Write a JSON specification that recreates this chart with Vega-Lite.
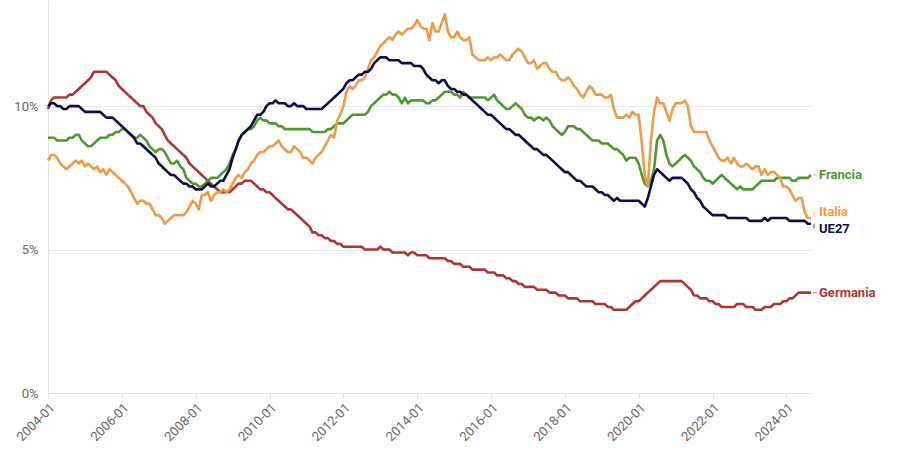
{
  "$schema": "https://vega.github.io/schema/vega-lite/v6.json",
  "width": 763,
  "height": 393,
  "autosize": {"type": "none"},
  "padding": {"left": 48, "top": 0, "right": 89, "bottom": 67},
  "background": "white",
  "config": {"view": {"stroke": null}, "font": "Roboto"},
  "data": {"values": [
    {"mese":"2004-01","UE27":10.0,"Francia":8.9,"Italia":8.1,"Germania":9.9},
    {"mese":"2004-02","UE27":10.1,"Francia":8.9,"Italia":8.3,"Germania":10.2},
    {"mese":"2004-03","UE27":10.1,"Francia":8.9,"Italia":8.3,"Germania":10.3},
    {"mese":"2004-04","UE27":10.0,"Francia":8.8,"Italia":8.2,"Germania":10.3},
    {"mese":"2004-05","UE27":10.0,"Francia":8.8,"Italia":8.0,"Germania":10.3},
    {"mese":"2004-06","UE27":9.9,"Francia":8.8,"Italia":7.9,"Germania":10.3},
    {"mese":"2004-07","UE27":9.9,"Francia":8.8,"Italia":7.8,"Germania":10.3},
    {"mese":"2004-08","UE27":10.0,"Francia":8.9,"Italia":7.9,"Germania":10.4},
    {"mese":"2004-09","UE27":10.0,"Francia":8.9,"Italia":8.0,"Germania":10.4},
    {"mese":"2004-10","UE27":10.0,"Francia":9.0,"Italia":8.1,"Germania":10.5},
    {"mese":"2004-11","UE27":10.0,"Francia":9.0,"Italia":8.0,"Germania":10.6},
    {"mese":"2004-12","UE27":9.9,"Francia":8.8,"Italia":8.1,"Germania":10.7},
    {"mese":"2005-01","UE27":9.8,"Francia":8.7,"Italia":7.9,"Germania":10.8},
    {"mese":"2005-02","UE27":9.8,"Francia":8.6,"Italia":8.0,"Germania":10.9},
    {"mese":"2005-03","UE27":9.8,"Francia":8.6,"Italia":7.9,"Germania":11.0},
    {"mese":"2005-04","UE27":9.8,"Francia":8.7,"Italia":7.8,"Germania":11.2},
    {"mese":"2005-05","UE27":9.8,"Francia":8.8,"Italia":7.9,"Germania":11.2},
    {"mese":"2005-06","UE27":9.8,"Francia":8.9,"Italia":7.7,"Germania":11.2},
    {"mese":"2005-07","UE27":9.7,"Francia":8.9,"Italia":7.8,"Germania":11.2},
    {"mese":"2005-08","UE27":9.6,"Francia":8.9,"Italia":7.6,"Germania":11.2},
    {"mese":"2005-09","UE27":9.6,"Francia":9.0,"Italia":7.8,"Germania":11.1},
    {"mese":"2005-10","UE27":9.6,"Francia":9.0,"Italia":7.7,"Germania":11.0},
    {"mese":"2005-11","UE27":9.5,"Francia":9.1,"Italia":7.6,"Germania":10.9},
    {"mese":"2005-12","UE27":9.4,"Francia":9.1,"Italia":7.5,"Germania":10.7},
    {"mese":"2006-01","UE27":9.3,"Francia":9.2,"Italia":7.4,"Germania":10.6},
    {"mese":"2006-02","UE27":9.2,"Francia":9.2,"Italia":7.3,"Germania":10.5},
    {"mese":"2006-03","UE27":9.1,"Francia":9.1,"Italia":7.2,"Germania":10.4},
    {"mese":"2006-04","UE27":9.0,"Francia":9.0,"Italia":7.0,"Germania":10.3},
    {"mese":"2006-05","UE27":8.9,"Francia":8.9,"Italia":6.8,"Germania":10.2},
    {"mese":"2006-06","UE27":8.7,"Francia":8.9,"Italia":6.6,"Germania":10.1},
    {"mese":"2006-07","UE27":8.7,"Francia":9.0,"Italia":6.7,"Germania":10.0},
    {"mese":"2006-08","UE27":8.6,"Francia":8.9,"Italia":6.7,"Germania":10.0},
    {"mese":"2006-09","UE27":8.5,"Francia":8.8,"Italia":6.6,"Germania":9.8},
    {"mese":"2006-10","UE27":8.4,"Francia":8.6,"Italia":6.6,"Germania":9.7},
    {"mese":"2006-11","UE27":8.3,"Francia":8.5,"Italia":6.4,"Germania":9.6},
    {"mese":"2006-12","UE27":8.2,"Francia":8.4,"Italia":6.2,"Germania":9.4},
    {"mese":"2007-01","UE27":8.0,"Francia":8.5,"Italia":6.2,"Germania":9.3},
    {"mese":"2007-02","UE27":7.9,"Francia":8.5,"Italia":6.1,"Germania":9.2},
    {"mese":"2007-03","UE27":7.8,"Francia":8.4,"Italia":5.9,"Germania":9.0},
    {"mese":"2007-04","UE27":7.7,"Francia":8.2,"Italia":6.0,"Germania":8.8},
    {"mese":"2007-05","UE27":7.6,"Francia":8.0,"Italia":6.1,"Germania":8.7},
    {"mese":"2007-06","UE27":7.6,"Francia":8.0,"Italia":6.2,"Germania":8.6},
    {"mese":"2007-07","UE27":7.5,"Francia":8.1,"Italia":6.2,"Germania":8.5},
    {"mese":"2007-08","UE27":7.4,"Francia":7.9,"Italia":6.2,"Germania":8.4},
    {"mese":"2007-09","UE27":7.3,"Francia":7.8,"Italia":6.2,"Germania":8.3},
    {"mese":"2007-10","UE27":7.3,"Francia":7.5,"Italia":6.3,"Germania":8.2},
    {"mese":"2007-11","UE27":7.2,"Francia":7.4,"Italia":6.5,"Germania":8.0},
    {"mese":"2007-12","UE27":7.2,"Francia":7.3,"Italia":6.7,"Germania":7.9},
    {"mese":"2008-01","UE27":7.1,"Francia":7.3,"Italia":6.6,"Germania":7.8},
    {"mese":"2008-02","UE27":7.1,"Francia":7.2,"Italia":6.4,"Germania":7.7},
    {"mese":"2008-03","UE27":7.1,"Francia":7.2,"Italia":6.9,"Germania":7.6},
    {"mese":"2008-04","UE27":7.2,"Francia":7.3,"Italia":6.9,"Germania":7.5},
    {"mese":"2008-05","UE27":7.3,"Francia":7.4,"Italia":7.0,"Germania":7.4},
    {"mese":"2008-06","UE27":7.2,"Francia":7.5,"Italia":6.7,"Germania":7.3},
    {"mese":"2008-07","UE27":7.2,"Francia":7.5,"Italia":6.9,"Germania":7.2},
    {"mese":"2008-08","UE27":7.3,"Francia":7.5,"Italia":7.0,"Germania":7.1},
    {"mese":"2008-09","UE27":7.4,"Francia":7.6,"Italia":7.0,"Germania":7.0},
    {"mese":"2008-10","UE27":7.4,"Francia":7.7,"Italia":7.1,"Germania":7.0},
    {"mese":"2008-11","UE27":7.6,"Francia":7.8,"Italia":7.0,"Germania":7.0},
    {"mese":"2008-12","UE27":7.8,"Francia":8.0,"Italia":7.1,"Germania":7.0},
    {"mese":"2009-01","UE27":8.2,"Francia":8.3,"Italia":7.3,"Germania":7.1},
    {"mese":"2009-02","UE27":8.5,"Francia":8.5,"Italia":7.5,"Germania":7.2},
    {"mese":"2009-03","UE27":8.8,"Francia":8.8,"Italia":7.6,"Germania":7.3},
    {"mese":"2009-04","UE27":9.0,"Francia":9.0,"Italia":7.5,"Germania":7.3},
    {"mese":"2009-05","UE27":9.1,"Francia":9.1,"Italia":7.7,"Germania":7.4},
    {"mese":"2009-06","UE27":9.2,"Francia":9.2,"Italia":7.8,"Germania":7.4},
    {"mese":"2009-07","UE27":9.3,"Francia":9.2,"Italia":8.0,"Germania":7.4},
    {"mese":"2009-08","UE27":9.5,"Francia":9.3,"Italia":8.1,"Germania":7.3},
    {"mese":"2009-09","UE27":9.7,"Francia":9.5,"Italia":8.3,"Germania":7.2},
    {"mese":"2009-10","UE27":9.7,"Francia":9.6,"Italia":8.4,"Germania":7.1},
    {"mese":"2009-11","UE27":9.8,"Francia":9.5,"Italia":8.4,"Germania":7.1},
    {"mese":"2009-12","UE27":10.0,"Francia":9.5,"Italia":8.5,"Germania":7.0},
    {"mese":"2010-01","UE27":10.1,"Francia":9.4,"Italia":8.6,"Germania":7.0},
    {"mese":"2010-02","UE27":10.1,"Francia":9.4,"Italia":8.6,"Germania":6.9},
    {"mese":"2010-03","UE27":10.2,"Francia":9.4,"Italia":8.7,"Germania":6.8},
    {"mese":"2010-04","UE27":10.1,"Francia":9.3,"Italia":8.8,"Germania":6.7},
    {"mese":"2010-05","UE27":10.1,"Francia":9.3,"Italia":8.6,"Germania":6.6},
    {"mese":"2010-06","UE27":10.1,"Francia":9.2,"Italia":8.5,"Germania":6.5},
    {"mese":"2010-07","UE27":10.0,"Francia":9.2,"Italia":8.4,"Germania":6.4},
    {"mese":"2010-08","UE27":10.0,"Francia":9.2,"Italia":8.4,"Germania":6.4},
    {"mese":"2010-09","UE27":10.1,"Francia":9.2,"Italia":8.6,"Germania":6.3},
    {"mese":"2010-10","UE27":10.0,"Francia":9.2,"Italia":8.5,"Germania":6.2},
    {"mese":"2010-11","UE27":10.0,"Francia":9.2,"Italia":8.4,"Germania":6.1},
    {"mese":"2010-12","UE27":10.0,"Francia":9.2,"Italia":8.2,"Germania":6.0},
    {"mese":"2011-01","UE27":9.9,"Francia":9.2,"Italia":8.2,"Germania":5.9},
    {"mese":"2011-02","UE27":9.9,"Francia":9.2,"Italia":8.1,"Germania":5.8},
    {"mese":"2011-03","UE27":9.9,"Francia":9.1,"Italia":8.0,"Germania":5.6},
    {"mese":"2011-04","UE27":9.9,"Francia":9.1,"Italia":8.2,"Germania":5.6},
    {"mese":"2011-05","UE27":9.9,"Francia":9.1,"Italia":8.3,"Germania":5.5},
    {"mese":"2011-06","UE27":9.9,"Francia":9.1,"Italia":8.4,"Germania":5.5},
    {"mese":"2011-07","UE27":10.0,"Francia":9.1,"Italia":8.6,"Germania":5.4},
    {"mese":"2011-08","UE27":10.1,"Francia":9.2,"Italia":8.8,"Germania":5.4},
    {"mese":"2011-09","UE27":10.2,"Francia":9.2,"Italia":9.0,"Germania":5.3},
    {"mese":"2011-10","UE27":10.3,"Francia":9.3,"Italia":8.9,"Germania":5.3},
    {"mese":"2011-11","UE27":10.4,"Francia":9.4,"Italia":9.5,"Germania":5.2},
    {"mese":"2011-12","UE27":10.5,"Francia":9.4,"Italia":9.7,"Germania":5.2},
    {"mese":"2012-01","UE27":10.6,"Francia":9.4,"Italia":10.0,"Germania":5.1},
    {"mese":"2012-02","UE27":10.8,"Francia":9.5,"Italia":10.5,"Germania":5.1},
    {"mese":"2012-03","UE27":10.9,"Francia":9.6,"Italia":10.7,"Germania":5.1},
    {"mese":"2012-04","UE27":10.9,"Francia":9.7,"Italia":10.6,"Germania":5.1},
    {"mese":"2012-05","UE27":11.0,"Francia":9.7,"Italia":10.7,"Germania":5.1},
    {"mese":"2012-06","UE27":11.1,"Francia":9.7,"Italia":10.9,"Germania":5.1},
    {"mese":"2012-07","UE27":11.1,"Francia":9.7,"Italia":10.9,"Germania":5.1},
    {"mese":"2012-08","UE27":11.2,"Francia":9.7,"Italia":11.0,"Germania":5.0},
    {"mese":"2012-09","UE27":11.2,"Francia":9.8,"Italia":11.3,"Germania":5.0},
    {"mese":"2012-10","UE27":11.3,"Francia":10.0,"Italia":11.6,"Germania":5.0},
    {"mese":"2012-11","UE27":11.5,"Francia":10.1,"Italia":11.7,"Germania":5.0},
    {"mese":"2012-12","UE27":11.6,"Francia":10.2,"Italia":11.9,"Germania":5.0},
    {"mese":"2013-01","UE27":11.7,"Francia":10.3,"Italia":12.1,"Germania":5.1},
    {"mese":"2013-02","UE27":11.7,"Francia":10.4,"Italia":12.2,"Germania":5.0},
    {"mese":"2013-03","UE27":11.7,"Francia":10.4,"Italia":12.3,"Germania":5.0},
    {"mese":"2013-04","UE27":11.6,"Francia":10.5,"Italia":12.4,"Germania":5.0},
    {"mese":"2013-05","UE27":11.6,"Francia":10.4,"Italia":12.3,"Germania":4.9},
    {"mese":"2013-06","UE27":11.6,"Francia":10.4,"Italia":12.5,"Germania":4.9},
    {"mese":"2013-07","UE27":11.6,"Francia":10.3,"Italia":12.6,"Germania":4.9},
    {"mese":"2013-08","UE27":11.5,"Francia":10.1,"Italia":12.5,"Germania":4.9},
    {"mese":"2013-09","UE27":11.5,"Francia":10.3,"Italia":12.6,"Germania":4.9},
    {"mese":"2013-10","UE27":11.5,"Francia":10.1,"Italia":12.7,"Germania":4.8},
    {"mese":"2013-11","UE27":11.5,"Francia":10.2,"Italia":12.7,"Germania":4.9},
    {"mese":"2013-12","UE27":11.4,"Francia":10.2,"Italia":12.8,"Germania":4.9},
    {"mese":"2014-01","UE27":11.4,"Francia":10.2,"Italia":13.0,"Germania":4.8},
    {"mese":"2014-02","UE27":11.4,"Francia":10.2,"Italia":12.8,"Germania":4.8},
    {"mese":"2014-03","UE27":11.3,"Francia":10.2,"Italia":12.7,"Germania":4.8},
    {"mese":"2014-04","UE27":11.1,"Francia":10.1,"Italia":12.7,"Germania":4.8},
    {"mese":"2014-05","UE27":11.0,"Francia":10.1,"Italia":12.3,"Germania":4.7},
    {"mese":"2014-06","UE27":10.9,"Francia":10.2,"Italia":12.9,"Germania":4.7},
    {"mese":"2014-07","UE27":10.9,"Francia":10.2,"Italia":12.6,"Germania":4.7},
    {"mese":"2014-08","UE27":10.8,"Francia":10.3,"Italia":12.6,"Germania":4.7},
    {"mese":"2014-09","UE27":10.9,"Francia":10.4,"Italia":12.9,"Germania":4.7},
    {"mese":"2014-10","UE27":10.9,"Francia":10.5,"Italia":13.2,"Germania":4.7},
    {"mese":"2014-11","UE27":10.7,"Francia":10.5,"Italia":12.6,"Germania":4.6},
    {"mese":"2014-12","UE27":10.6,"Francia":10.5,"Italia":12.4,"Germania":4.6},
    {"mese":"2015-01","UE27":10.6,"Francia":10.4,"Italia":12.4,"Germania":4.5},
    {"mese":"2015-02","UE27":10.5,"Francia":10.4,"Italia":12.6,"Germania":4.5},
    {"mese":"2015-03","UE27":10.5,"Francia":10.3,"Italia":12.4,"Germania":4.5},
    {"mese":"2015-04","UE27":10.4,"Francia":10.5,"Italia":12.3,"Germania":4.4},
    {"mese":"2015-05","UE27":10.4,"Francia":10.4,"Italia":12.3,"Germania":4.4},
    {"mese":"2015-06","UE27":10.3,"Francia":10.3,"Italia":12.4,"Germania":4.4},
    {"mese":"2015-07","UE27":10.2,"Francia":10.3,"Italia":11.8,"Germania":4.3},
    {"mese":"2015-08","UE27":10.1,"Francia":10.3,"Italia":11.7,"Germania":4.3},
    {"mese":"2015-09","UE27":10.0,"Francia":10.3,"Italia":11.6,"Germania":4.3},
    {"mese":"2015-10","UE27":9.9,"Francia":10.3,"Italia":11.6,"Germania":4.3},
    {"mese":"2015-11","UE27":9.8,"Francia":10.3,"Italia":11.6,"Germania":4.3},
    {"mese":"2015-12","UE27":9.7,"Francia":10.2,"Italia":11.7,"Germania":4.2},
    {"mese":"2016-01","UE27":9.7,"Francia":10.3,"Italia":11.6,"Germania":4.2},
    {"mese":"2016-02","UE27":9.6,"Francia":10.4,"Italia":11.7,"Germania":4.2},
    {"mese":"2016-03","UE27":9.5,"Francia":10.2,"Italia":11.7,"Germania":4.1},
    {"mese":"2016-04","UE27":9.4,"Francia":10.1,"Italia":11.8,"Germania":4.1},
    {"mese":"2016-05","UE27":9.3,"Francia":10.0,"Italia":11.7,"Germania":4.1},
    {"mese":"2016-06","UE27":9.2,"Francia":9.9,"Italia":11.6,"Germania":4.0},
    {"mese":"2016-07","UE27":9.2,"Francia":9.9,"Italia":11.6,"Germania":4.0},
    {"mese":"2016-08","UE27":9.1,"Francia":10.0,"Italia":11.8,"Germania":3.9},
    {"mese":"2016-09","UE27":9.0,"Francia":10.1,"Italia":11.9,"Germania":3.9},
    {"mese":"2016-10","UE27":9.0,"Francia":10.0,"Italia":12.0,"Germania":3.8},
    {"mese":"2016-11","UE27":8.9,"Francia":9.9,"Italia":11.9,"Germania":3.8},
    {"mese":"2016-12","UE27":8.8,"Francia":9.7,"Italia":11.7,"Germania":3.7},
    {"mese":"2017-01","UE27":8.7,"Francia":9.6,"Italia":11.5,"Germania":3.7},
    {"mese":"2017-02","UE27":8.6,"Francia":9.6,"Italia":11.5,"Germania":3.7},
    {"mese":"2017-03","UE27":8.5,"Francia":9.5,"Italia":11.6,"Germania":3.7},
    {"mese":"2017-04","UE27":8.5,"Francia":9.6,"Italia":11.3,"Germania":3.6},
    {"mese":"2017-05","UE27":8.4,"Francia":9.6,"Italia":11.4,"Germania":3.6},
    {"mese":"2017-06","UE27":8.3,"Francia":9.5,"Italia":11.5,"Germania":3.6},
    {"mese":"2017-07","UE27":8.3,"Francia":9.6,"Italia":11.5,"Germania":3.6},
    {"mese":"2017-08","UE27":8.2,"Francia":9.5,"Italia":11.3,"Germania":3.5},
    {"mese":"2017-09","UE27":8.1,"Francia":9.3,"Italia":11.2,"Germania":3.5},
    {"mese":"2017-10","UE27":8.0,"Francia":9.2,"Italia":11.2,"Germania":3.5},
    {"mese":"2017-11","UE27":7.9,"Francia":9.1,"Italia":11.0,"Germania":3.4},
    {"mese":"2017-12","UE27":7.8,"Francia":9.0,"Italia":10.9,"Germania":3.4},
    {"mese":"2018-01","UE27":7.7,"Francia":9.1,"Italia":10.9,"Germania":3.4},
    {"mese":"2018-02","UE27":7.7,"Francia":9.3,"Italia":11.0,"Germania":3.3},
    {"mese":"2018-03","UE27":7.6,"Francia":9.3,"Italia":10.9,"Germania":3.3},
    {"mese":"2018-04","UE27":7.5,"Francia":9.3,"Italia":10.7,"Germania":3.3},
    {"mese":"2018-05","UE27":7.4,"Francia":9.2,"Italia":10.6,"Germania":3.3},
    {"mese":"2018-06","UE27":7.4,"Francia":9.2,"Italia":10.4,"Germania":3.2},
    {"mese":"2018-07","UE27":7.3,"Francia":9.1,"Italia":10.3,"Germania":3.2},
    {"mese":"2018-08","UE27":7.2,"Francia":9.0,"Italia":10.5,"Germania":3.2},
    {"mese":"2018-09","UE27":7.2,"Francia":8.9,"Italia":10.7,"Germania":3.2},
    {"mese":"2018-10","UE27":7.2,"Francia":8.8,"Italia":10.6,"Germania":3.2},
    {"mese":"2018-11","UE27":7.1,"Francia":8.8,"Italia":10.4,"Germania":3.1},
    {"mese":"2018-12","UE27":7.0,"Francia":8.8,"Italia":10.4,"Germania":3.1},
    {"mese":"2019-01","UE27":7.0,"Francia":8.7,"Italia":10.4,"Germania":3.1},
    {"mese":"2019-02","UE27":6.9,"Francia":8.7,"Italia":10.3,"Germania":3.1},
    {"mese":"2019-03","UE27":6.9,"Francia":8.7,"Italia":10.3,"Germania":3.0},
    {"mese":"2019-04","UE27":6.8,"Francia":8.6,"Italia":10.4,"Germania":3.0},
    {"mese":"2019-05","UE27":6.7,"Francia":8.5,"Italia":9.9,"Germania":2.9},
    {"mese":"2019-06","UE27":6.8,"Francia":8.5,"Italia":9.6,"Germania":2.9},
    {"mese":"2019-07","UE27":6.7,"Francia":8.4,"Italia":9.6,"Germania":2.9},
    {"mese":"2019-08","UE27":6.7,"Francia":8.3,"Italia":9.6,"Germania":2.9},
    {"mese":"2019-09","UE27":6.7,"Francia":8.1,"Italia":9.7,"Germania":2.9},
    {"mese":"2019-10","UE27":6.7,"Francia":8.2,"Italia":9.6,"Germania":3.0},
    {"mese":"2019-11","UE27":6.7,"Francia":8.2,"Italia":9.8,"Germania":3.1},
    {"mese":"2019-12","UE27":6.7,"Francia":8.2,"Italia":9.7,"Germania":3.2},
    {"mese":"2020-01","UE27":6.7,"Francia":8.0,"Italia":9.7,"Germania":3.2},
    {"mese":"2020-02","UE27":6.6,"Francia":7.6,"Italia":8.7,"Germania":3.3},
    {"mese":"2020-03","UE27":6.5,"Francia":7.3,"Italia":7.6,"Germania":3.4},
    {"mese":"2020-04","UE27":6.8,"Francia":7.2,"Italia":7.2,"Germania":3.5},
    {"mese":"2020-05","UE27":7.2,"Francia":7.4,"Italia":8.8,"Germania":3.6},
    {"mese":"2020-06","UE27":7.6,"Francia":7.8,"Italia":9.8,"Germania":3.7},
    {"mese":"2020-07","UE27":7.8,"Francia":8.8,"Italia":10.3,"Germania":3.8},
    {"mese":"2020-08","UE27":7.7,"Francia":9.0,"Italia":10.1,"Germania":3.9},
    {"mese":"2020-09","UE27":7.6,"Francia":8.8,"Italia":10.1,"Germania":3.9},
    {"mese":"2020-10","UE27":7.5,"Francia":8.3,"Italia":9.8,"Germania":3.9},
    {"mese":"2020-11","UE27":7.4,"Francia":8.0,"Italia":9.5,"Germania":3.9},
    {"mese":"2020-12","UE27":7.5,"Francia":7.9,"Italia":9.9,"Germania":3.9},
    {"mese":"2021-01","UE27":7.5,"Francia":8.0,"Italia":10.1,"Germania":3.9},
    {"mese":"2021-02","UE27":7.5,"Francia":8.1,"Italia":10.1,"Germania":3.9},
    {"mese":"2021-03","UE27":7.5,"Francia":8.2,"Italia":10.1,"Germania":3.9},
    {"mese":"2021-04","UE27":7.4,"Francia":8.3,"Italia":10.2,"Germania":3.8},
    {"mese":"2021-05","UE27":7.3,"Francia":8.2,"Italia":10.0,"Germania":3.7},
    {"mese":"2021-06","UE27":7.1,"Francia":8.1,"Italia":9.3,"Germania":3.6},
    {"mese":"2021-07","UE27":7.0,"Francia":7.9,"Italia":9.1,"Germania":3.4},
    {"mese":"2021-08","UE27":6.8,"Francia":7.8,"Italia":9.1,"Germania":3.4},
    {"mese":"2021-09","UE27":6.7,"Francia":7.7,"Italia":9.1,"Germania":3.3},
    {"mese":"2021-10","UE27":6.5,"Francia":7.5,"Italia":9.1,"Germania":3.3},
    {"mese":"2021-11","UE27":6.4,"Francia":7.4,"Italia":9.1,"Germania":3.3},
    {"mese":"2021-12","UE27":6.3,"Francia":7.4,"Italia":8.8,"Germania":3.2},
    {"mese":"2022-01","UE27":6.2,"Francia":7.3,"Italia":8.6,"Germania":3.2},
    {"mese":"2022-02","UE27":6.2,"Francia":7.4,"Italia":8.4,"Germania":3.1},
    {"mese":"2022-03","UE27":6.2,"Francia":7.5,"Italia":8.2,"Germania":3.1},
    {"mese":"2022-04","UE27":6.2,"Francia":7.6,"Italia":8.1,"Germania":3.0},
    {"mese":"2022-05","UE27":6.2,"Francia":7.5,"Italia":8.1,"Germania":3.0},
    {"mese":"2022-06","UE27":6.1,"Francia":7.4,"Italia":8.2,"Germania":3.0},
    {"mese":"2022-07","UE27":6.1,"Francia":7.3,"Italia":8.0,"Germania":3.0},
    {"mese":"2022-08","UE27":6.1,"Francia":7.2,"Italia":8.2,"Germania":3.0},
    {"mese":"2022-09","UE27":6.1,"Francia":7.1,"Italia":8.0,"Germania":3.1},
    {"mese":"2022-10","UE27":6.1,"Francia":7.2,"Italia":7.9,"Germania":3.1},
    {"mese":"2022-11","UE27":6.1,"Francia":7.1,"Italia":7.9,"Germania":3.1},
    {"mese":"2022-12","UE27":6.1,"Francia":7.1,"Italia":8.0,"Germania":3.0},
    {"mese":"2023-01","UE27":6.0,"Francia":7.1,"Italia":7.9,"Germania":3.0},
    {"mese":"2023-02","UE27":6.0,"Francia":7.1,"Italia":7.8,"Germania":3.0},
    {"mese":"2023-03","UE27":6.0,"Francia":7.2,"Italia":7.9,"Germania":2.9},
    {"mese":"2023-04","UE27":6.0,"Francia":7.3,"Italia":7.9,"Germania":2.9},
    {"mese":"2023-05","UE27":6.0,"Francia":7.4,"Italia":7.6,"Germania":2.9},
    {"mese":"2023-06","UE27":6.1,"Francia":7.4,"Italia":7.8,"Germania":3.0},
    {"mese":"2023-07","UE27":6.0,"Francia":7.4,"Italia":7.6,"Germania":3.0},
    {"mese":"2023-08","UE27":6.1,"Francia":7.4,"Italia":7.7,"Germania":3.0},
    {"mese":"2023-09","UE27":6.1,"Francia":7.4,"Italia":7.7,"Germania":3.1},
    {"mese":"2023-10","UE27":6.1,"Francia":7.5,"Italia":7.6,"Germania":3.1},
    {"mese":"2023-11","UE27":6.1,"Francia":7.5,"Italia":7.5,"Germania":3.1},
    {"mese":"2023-12","UE27":6.1,"Francia":7.5,"Italia":7.2,"Germania":3.2},
    {"mese":"2024-01","UE27":6.1,"Francia":7.5,"Italia":7.2,"Germania":3.2},
    {"mese":"2024-02","UE27":6.0,"Francia":7.5,"Italia":7.1,"Germania":3.3},
    {"mese":"2024-03","UE27":6.0,"Francia":7.4,"Italia":6.9,"Germania":3.3},
    {"mese":"2024-04","UE27":6.0,"Francia":7.4,"Italia":6.7,"Germania":3.4},
    {"mese":"2024-05","UE27":6.0,"Francia":7.5,"Italia":6.8,"Germania":3.5},
    {"mese":"2024-06","UE27":6.0,"Francia":7.5,"Italia":6.8,"Germania":3.5},
    {"mese":"2024-07","UE27":6.0,"Francia":7.5,"Italia":6.3,"Germania":3.5},
    {"mese":"2024-08","UE27":5.9,"Francia":7.5,"Italia":6.1,"Germania":3.5},
    {"mese":"2024-09","UE27":5.9,"Francia":7.6,"Italia":6.1,"Germania":3.5}
  ]},
  "transform": [{"fold": ["Germania", "Francia", "Italia", "UE27"], "as": ["paese", "tasso"]}],
  "encoding": {
    "x": {
      "field": "mese", "type": "temporal", "timeUnit": "utcyearmonth", "title": null,
      "axis": {
        "format": "%Y-%m", "tickCount": {"interval": "year", "step": 2},
        "labelAngle": -45, "labelAlign": "right", "labelBaseline": "top",
        "grid": false, "domainColor": "#e3e3e3", "tickColor": "#e3e3e3", "tickSize": 5,
        "labelColor": "#666666", "labelFontSize": 13, "labelPadding": 3, "labelFont": "Roboto"
      }
    },
    "y": {
      "field": "tasso", "type": "quantitative", "title": null,
      "scale": {"domain": [0, 13.7], "nice": false},
      "axis": {
        "values": [0, 5, 10], "labelExpr": "datum.value + '%'",
        "grid": true, "gridColor": "#e8e8e8", "domainColor": "#e3e3e3", "ticks": false,
        "labelPadding": 10, "labelColor": "#666666", "labelFontSize": 13, "labelFont": "Roboto"
      }
    },
    "color": {
      "field": "paese", "type": "nominal", "legend": null,
      "scale": {"domain": ["Germania", "Francia", "Italia", "UE27"], "range": ["#ad3631", "#4a9a2f", "#ef9a48", "#0c0c4e"]}
    }
  },
  "layer": [
    {"transform": [{"filter": "datum.paese == 'Germania'"}], "mark": {"type": "line", "strokeWidth": 2.6, "strokeJoin": "round"}},
    {"transform": [{"filter": "datum.paese == 'Francia'"}], "mark": {"type": "line", "strokeWidth": 2.6, "strokeJoin": "round"}},
    {"transform": [{"filter": "datum.paese == 'Italia'"}], "mark": {"type": "line", "strokeWidth": 2.6, "strokeJoin": "round"}},
    {"transform": [{"filter": "datum.paese == 'UE27'"}], "mark": {"type": "line", "strokeWidth": 2.6, "strokeJoin": "round"}},
    {
      "transform": [{"filter": "utcyear(datum.mese) == 2024 && utcmonth(datum.mese) == 8 && (datum.paese == 'Francia' || datum.paese == 'Germania')"}],
      "mark": {"type": "rule", "xOffset": 2, "x2Offset": 6, "strokeWidth": 1, "opacity": 0.5},
      "encoding": {"x2": {"field": "mese", "timeUnit": "utcyearmonth"}}
    },
    {
      "transform": [{"filter": "utcyear(datum.mese) == 2024 && utcmonth(datum.mese) == 8 && datum.paese == 'Italia'"}],
      "mark": {"type": "rule", "xOffset": 3, "y2Offset": -6, "strokeWidth": 1, "color": "#999999", "opacity": 0.7},
      "encoding": {"y2": {"field": "tasso"}}
    },
    {
      "transform": [{"filter": "utcyear(datum.mese) == 2024 && utcmonth(datum.mese) == 8 && datum.paese == 'UE27'"}],
      "mark": {"type": "rule", "xOffset": 3, "y2Offset": 5, "strokeWidth": 1, "color": "#999999", "opacity": 0.7},
      "encoding": {"y2": {"field": "tasso"}}
    },
    {
      "transform": [{"filter": "utcyear(datum.mese) == 2024 && utcmonth(datum.mese) == 8 && (datum.paese == 'Francia' || datum.paese == 'Germania')"}],
      "mark": {"type": "text", "align": "left", "baseline": "middle", "dx": 8, "fontSize": 13, "fontWeight": "bold", "font": "Roboto"},
      "encoding": {"text": {"field": "paese"}}
    },
    {
      "transform": [{"filter": "utcyear(datum.mese) == 2024 && utcmonth(datum.mese) == 8 && datum.paese == 'Italia'"}],
      "mark": {"type": "text", "align": "left", "baseline": "middle", "dx": 8, "dy": -6, "fontSize": 13, "fontWeight": "bold", "font": "Roboto"},
      "encoding": {"text": {"field": "paese"}}
    },
    {
      "transform": [{"filter": "utcyear(datum.mese) == 2024 && utcmonth(datum.mese) == 8 && datum.paese == 'UE27'"}],
      "mark": {"type": "text", "align": "left", "baseline": "middle", "dx": 8, "dy": 5, "fontSize": 13, "fontWeight": "bold", "font": "Roboto"},
      "encoding": {"text": {"field": "paese"}}
    }
  ]
}
